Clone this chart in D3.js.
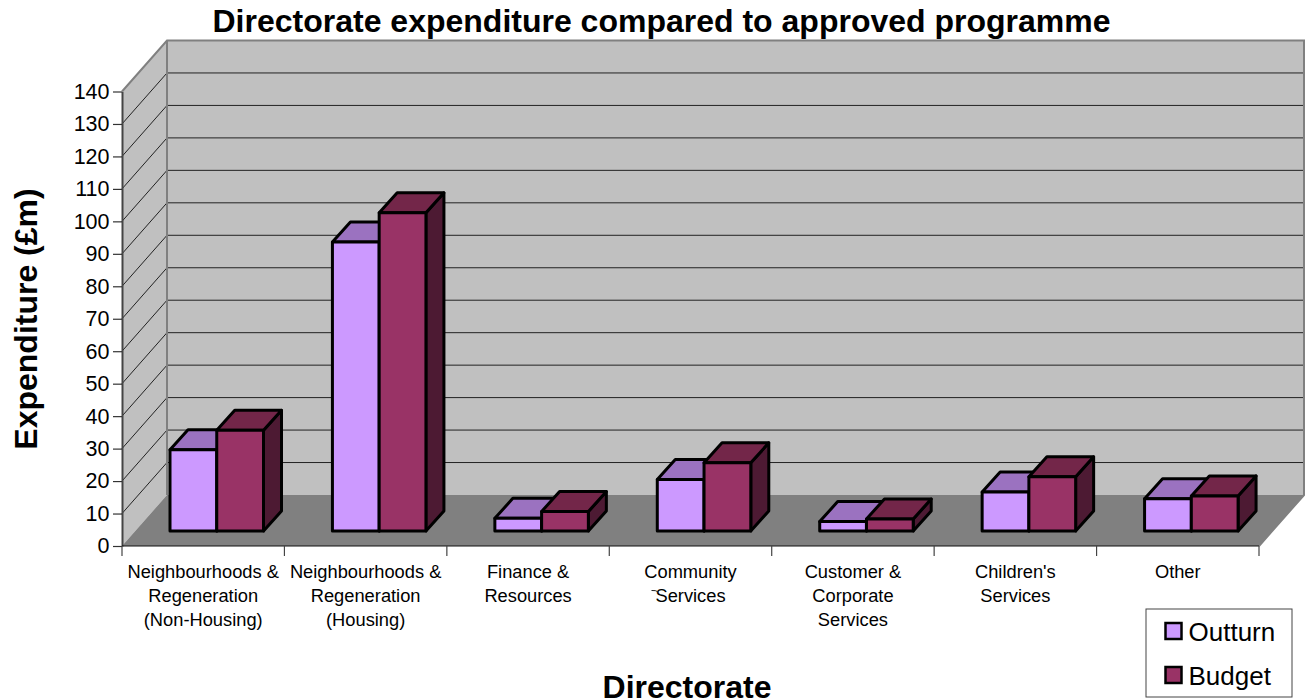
<!DOCTYPE html>
<html>
<head>
<meta charset="utf-8">
<script src="https://cdnjs.cloudflare.com/ajax/libs/d3/7.8.5/d3.min.js"></script>
<style>
  html, body { margin: 0; padding: 0; background: #fff; }
  svg { display: block; }
  text { font-family: "Liberation Sans", Arial, sans-serif; fill: #000; }
</style>
</head>
<body>
<svg id="chart" width="1311" height="700"></svg>
<script>
// Chart values, in £m
const categories = [
  ["Neighbourhoods &", "Regeneration", "(Non-Housing)"],
  ["Neighbourhoods &", "Regeneration", "(Housing)"],
  ["Finance &", "Resources"],
  ["Community", "Services"],
  ["Customer &", "Corporate", "Services"],
  ["Children's", "Services"],
  ["Other"]
];
const seriesNames = ["Outturn", "Budget"];
const outturn = [25, 89, 3.9, 15.9, 2.9, 12, 9.9];
const budget = [31, 98, 6, 21, 3.7, 16.7, 10.8];
const yTicks = d3.range(0, 150, 10);

const title = "Directorate expenditure compared to approved programme";
const xTitle = "Directorate";
const yTitle = "Expenditure (£m)";

// Colours: front, top and side faces of each series
const faces = {
  Outturn: { front: "#cc99ff", top: "#9b72c0", side: "#66508a" },
  Budget: { front: "#993366", top: "#732649", side: "#4d1a33" }
};

const svg = d3.select("#chart");

// Oblique projection of the chart box
const left = 122, right = 1259, floorY = 546, topY = 91.5;
const depthX = 45, depthY = 51;
const barDepthX = 18, barDepthY = 20;
const barLift = 15;

const y = d3.scaleLinear().domain([0, 140]).range([floorY, topY]);
const x = d3.scaleBand().domain(d3.range(categories.length)).range([left, right]);
const inner = d3.scaleBand().domain(seriesNames).range([48, 141.5]);

const poly = pts => pts.map(p => p.join(",")).join(" ");

// Back wall, side wall and floor
svg.append("polygon")
  .attr("points", poly([[left + depthX, y(140) - depthY], [right + depthX, y(140) - depthY],
                        [right + depthX, floorY - depthY], [left + depthX, floorY - depthY]]))
  .attr("fill", "#c0c0c0");
svg.append("polygon")
  .attr("points", poly([[left, floorY], [left, y(140)], [left + depthX, y(140) - depthY], [left + depthX, floorY - depthY]]))
  .attr("fill", "#c0c0c0");
svg.append("polygon")
  .attr("points", poly([[left, floorY], [right, floorY], [right + depthX, floorY - depthY], [left + depthX, floorY - depthY]]))
  .attr("fill", "#808080");

// Gridlines across the side wall and back wall
const grid = svg.append("g").attr("fill", "none").attr("stroke", "#222").attr("stroke-width", 1);
grid.selectAll("path.grid").data(yTicks.filter(d => d > 0 && d < 140)).join("path")
  .attr("class", "grid")
  .attr("d", d => `M${left},${y(d)}L${left + depthX},${y(d) - depthY}L${right + depthX},${y(d) - depthY}`);

// Wall outline
svg.append("path")
  .attr("d", `M${left},${y(140)}L${left + depthX},${y(140) - depthY}L${right + depthX},${y(140) - depthY}L${right + depthX},${floorY - depthY}L${right},${floorY}`)
  .attr("fill", "none").attr("stroke", "#808080").attr("stroke-width", 2);
svg.append("line")
  .attr("x1", left + depthX).attr("x2", left + depthX)
  .attr("y1", y(140) - depthY).attr("y2", floorY - depthY)
  .attr("stroke", "#808080").attr("stroke-width", 2);

// Bars: each has a front, top and side face
const rows = categories.map((c, i) => ({ i, values: [outturn[i], budget[i]] }));
const groups = svg.selectAll("g.cat").data(rows).join("g").attr("class", "cat");
groups.each(function (row) {
  const g = d3.select(this);
  seriesNames.forEach((name, k) => {
    const v = row.values[k];
    const x0 = x(row.i) + inner(name);
    const x1 = x0 + inner.bandwidth();
    const y0 = y(0) - barLift;
    const y1 = y(v) - barLift;
    const face = (pts, fill) => g.append("polygon")
      .attr("points", poly(pts)).attr("fill", fill)
      .attr("stroke", "#000").attr("stroke-width", 3).attr("stroke-linejoin", "round");
    face([[x1, y1], [x1 + barDepthX, y1 - barDepthY], [x1 + barDepthX, y0 - barDepthY], [x1, y0]], faces[name].side);
    face([[x0, y1], [x0 + barDepthX, y1 - barDepthY], [x1 + barDepthX, y1 - barDepthY], [x1, y1]], faces[name].top);
    face([[x0, y0], [x1, y0], [x1, y1], [x0, y1]], faces[name].front);
  });
});

// Value axis
const yAxis = svg.append("g")
  .attr("transform", `translate(${left},0)`)
  .call(d3.axisLeft(y).tickValues(yTicks).tickSize(9).tickPadding(3.5).tickSizeOuter(0));
yAxis.selectAll("path").attr("stroke", "#444").attr("stroke-width", 2);
yAxis.selectAll("line").attr("stroke", "#333").attr("stroke-width", 1.2);
yAxis.selectAll("text").attr("font-size", 21.5).style("font-family", '"Liberation Sans", Arial, sans-serif');

// Category axis: baseline, boundary ticks and wrapped labels
svg.append("line").attr("x1", left).attr("x2", right).attr("y1", floorY).attr("y2", floorY)
  .attr("stroke", "#111").attr("stroke-width", 1.2);
svg.selectAll("line.xtick").data(d3.range(categories.length + 1)).join("line")
  .attr("class", "xtick")
  .attr("x1", d => left + d * x.step()).attr("x2", d => left + d * x.step())
  .attr("y1", floorY).attr("y2", floorY + 10)
  .attr("stroke", "#444").attr("stroke-width", 1.2);
svg.selectAll("text.xlabel").data(categories).join("text")
  .attr("class", "xlabel")
  .attr("text-anchor", "middle")
  .attr("font-size", 18.3)
  .each(function (lines, i) {
    d3.select(this).selectAll("tspan").data(lines).join("tspan")
      .attr("x", x(i) + x.bandwidth() / 2)
      .attr("y", (d, j) => 578 + j * 24.2)
      .text(d => d);
  });

// Short stray stroke beside the "Services" label of the fourth category
const strayX = x(3) + x.bandwidth() / 2;
svg.append("path")
  .attr("d", `M${strayX - 39},590.5Q${strayX - 35},590 ${strayX - 32},592`)
  .attr("stroke", "#222").attr("stroke-width", 1).attr("fill", "none");

// Titles
svg.append("text").attr("x", 661.5).attr("y", 32).attr("text-anchor", "middle")
  .attr("font-size", 32).attr("font-weight", "bold").text(title);
svg.append("text").attr("x", 687).attr("y", 697.5).attr("text-anchor", "middle")
  .attr("font-size", 32).attr("font-weight", "bold").text(xTitle);
svg.append("text").attr("transform", "translate(37,319) rotate(-90)").attr("text-anchor", "middle")
  .attr("font-size", 32).attr("font-weight", "bold").text(yTitle);

// Legend
svg.append("rect").attr("x", 1146).attr("y", 609).attr("width", 146).attr("height", 88)
  .attr("fill", "#fff").attr("stroke", "#444").attr("stroke-width", 1);
const legend = svg.selectAll("g.legend").data(seriesNames).join("g")
  .attr("class", "legend")
  .attr("transform", (d, i) => `translate(1165.5,${623 + i * 44})`);
legend.append("rect").attr("width", 16).attr("height", 16)
  .attr("fill", d => faces[d].front).attr("stroke", "#000").attr("stroke-width", 2.5);
legend.append("text").attr("x", 23).attr("y", 18).attr("font-size", 26).text(d => d);
</script>
</body>
</html>
